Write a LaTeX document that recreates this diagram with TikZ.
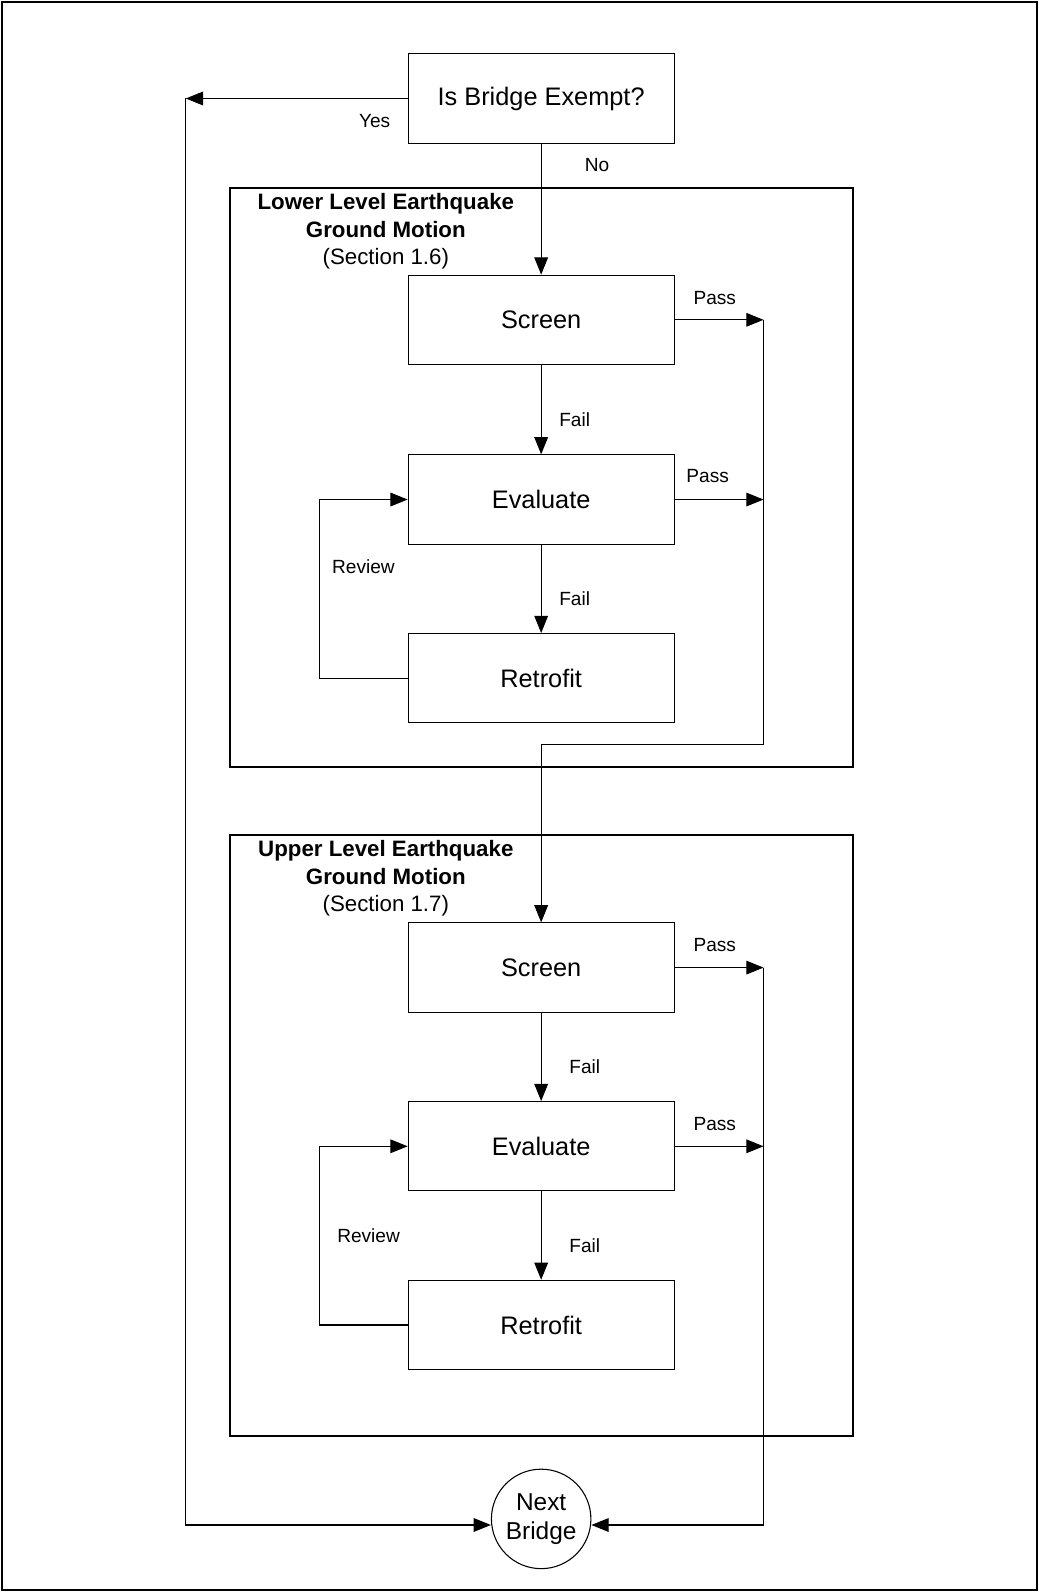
\documentclass[tikz,border=0pt]{standalone}
\usepackage{fontspec}
\setmainfont{Liberation Sans}
\usepackage{tikz}
\usetikzlibrary{arrows.meta,shapes.geometric,calc}
\def\bigtxt{\fontsize{14.2}{20}\selectfont}
\def\endtxt{\fontsize{13.7}{16.4}\selectfont}
\def\smalltxt{\fontsize{10.7}{13}\selectfont}
\def\grptxt{\fontsize{12.5}{15.3}\selectfont}

\tikzset{
  stepbox/.style={draw,line width=0.6pt,minimum width=5.24cm,minimum height=1.76cm,inner sep=0pt,font=\bigtxt},
  lbl/.style={font=\smalltxt,inner sep=0pt},
  arr/.style={line width=0.6pt,-{Triangle[length=3.4mm,width=2.7mm]}},
  grp/.style={line width=1.1pt}
}

\begin{document}
\begin{tikzpicture}[x=0.02cm,y=-0.02cm]
        \useasboundingbox (0,0) rectangle (1023,1568);
        \draw[line width=1.1pt] (2,2) rectangle (1021,1566);
        % top decision
        \node[stepbox] (ex) at (533,97) {Is Bridge Exempt?};
        \node[lbl] (yes) at (369,119) {Yes};
        \node[lbl] (no) at (588,163) {No};
        % lower level group
        \draw[grp] (227,185) rectangle (840,755);
        \node[font=\grptxt,align=center,inner sep=0pt] (lowtitle) at (380,228)
             {\textbf{Lower Level Earthquake}\\\textbf{Ground Motion}\\(Section 1.6)};
        \node[stepbox] (scr1) at (533,315) {Screen};
        \node[stepbox] (ev1) at (533,492) {Evaluate};
        \node[stepbox] (ret1) at (533,668) {Retrofit};
        \node[lbl] (pass1) at (704,294) {Pass};
        \node[lbl] (pass2) at (697,469) {Pass};
        \node[lbl] (fail1) at (566,413) {Fail};
        \node[lbl] (fail2) at (566,590) {Fail};
        \node[lbl] (rev1) at (358,558) {Review};
        % upper level group
        \draw[grp] (227,822) rectangle (840,1414);
        \node[font=\grptxt,align=center,inner sep=0pt] (uptitle) at (380,865)
             {\textbf{Upper Level Earthquake}\\\textbf{Ground Motion}\\(Section 1.7)};
        \node[stepbox] (scr2) at (533,953) {Screen};
        \node[stepbox] (ev2) at (533,1129) {Evaluate};
        \node[stepbox] (ret2) at (533,1305) {Retrofit};
        \node[lbl] (pass3) at (704,931) {Pass};
        \node[lbl] (pass4) at (704,1107) {Pass};
        \node[lbl] (fail3) at (576,1051) {Fail};
        \node[lbl] (fail4) at (576,1227) {Fail};
        \node[lbl] (rev2) at (363,1217) {Review};
        % end
        \node[draw,circle,line width=0.6pt,minimum size=1.96cm,
              inner sep=0pt,align=center,font=\endtxt] (nb) at (533,1496) {Next\\Bridge};
        \coordinate (yesC) at (183,97);
        \coordinate (botL) at (183,1502);
        \coordinate (p1) at (752,315);
        \coordinate (j1) at (533,733);
        \coordinate (p2) at (752,953);
        % connectors
        \draw[arr] (ex.west) -- (yesC);
        \draw[arr] (yesC) -- (botL) -- (nb.west |- botL);
        \draw[arr] (ex.south) -- (scr1.north);
        \draw[arr] (scr1.south) -- (ev1.north);
        \draw[arr] (ev1.south) -- (ret1.north);
        \draw[arr] (scr1.east) -- (p1);
        \draw[arr] (ev1.east) -- (ev1.east -| p1);
        \draw[arr] (ret1.west) -- ++(-87,0) |- (ev1.west);
        \draw[arr] (p1) |- (j1) -- (scr2.north);
        \draw[arr] (scr2.south) -- (ev2.north);
        \draw[arr] (ev2.south) -- (ret2.north);
        \draw[arr] (scr2.east) -- (p2);
        \draw[arr] (ev2.east) -- (ev2.east -| p2);
        \draw[arr] (ret2.west) -- ++(-87,0) |- (ev2.west);
        \draw[arr] (p2) |- (nb.east |- botL);
\end{tikzpicture}
\end{document}
